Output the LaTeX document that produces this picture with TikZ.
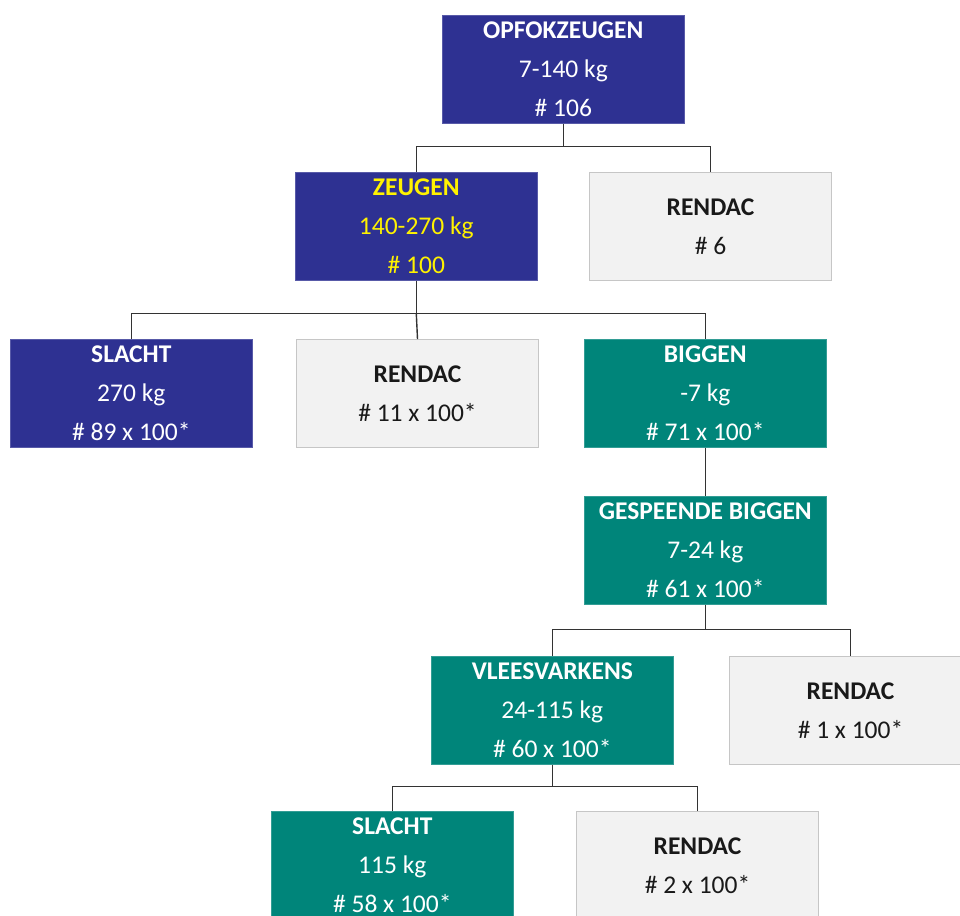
\documentclass[tikz,border=0pt]{standalone}
\usepackage{fontspec}
\setmainfont{Carlito}
\definecolor{navy}{HTML}{2E3192}
\definecolor{teal2}{HTML}{00857A}
\definecolor{greyfill}{HTML}{F2F2F2}
\definecolor{greyline}{HTML}{C6C6C6}
\definecolor{yel}{HTML}{FFF200}
\definecolor{conn}{HTML}{333333}
\tikzset{
  box/.style={anchor=north west, minimum width=242pt, minimum height=108pt, inner sep=0pt,
    align=center, font=\fontsize{25.5}{39}\selectfont},
  bluebox/.style={box, fill=navy, draw=navy!80!white, line width=0.6pt, text=white},
  tealbox/.style={box, fill=teal2, draw=teal2!80!white, line width=0.6pt, text=white},
  greybox/.style={box, fill=greyfill, draw=greyline, line width=1pt, text=black!90},
  link/.style={draw=conn, line width=1.4pt}
}
\begin{document}
\begin{tikzpicture}[x=1pt,y=-1pt]
\useasboundingbox (0,0) rectangle (960,915);
\clip (0,0) rectangle (960,915);
\node[bluebox] (opf) at (442,15) {\textbf{OPFOKZEUGEN}\\7-140 kg\\\# 106};
\node[bluebox, text=yel] (zeug) at (295,172) {\textbf{ZEUGEN}\\140-270 kg\\\# 100};
\node[greybox] (rend1) at (589,172) {\textbf{RENDAC}\\\# 6};
\node[bluebox] (sl1) at (10,339) {\textbf{SLACHT}\\270 kg\\\# 89 x 100*};
\node[greybox] (rend2) at (296,339) {\textbf{RENDAC}\\\# 11 x 100*};
\node[tealbox] (big) at (584,339) {\textbf{BIGGEN}\\-7 kg\\\# 71 x 100*};
\node[tealbox] (gesp) at (584,496) {\textbf{GESPEENDE BIGGEN}\\7-24 kg\\\# 61 x 100*};
\node[tealbox] (vlees) at (431,656) {\textbf{VLEESVARKENS}\\24-115 kg\\\# 60 x 100*};
\node[greybox] (rend3) at (729,656) {\textbf{RENDAC}\\\# 1 x 100*};
\node[tealbox] (sl2) at (271,811) {\textbf{SLACHT}\\115 kg\\\# 58 x 100*};
\node[greybox] (rend4) at (576,811) {\textbf{RENDAC}\\\# 2 x 100*};

\draw[link] (opf.south) -- ++(0,23) coordinate (j1);
\draw[link] (zeug.north) |- (j1) -| (rend1.north);
\draw[link] (zeug.south) -- ++(0,33) coordinate (j2);
\draw[link] (sl1.north) |- (j2) -| (big.north);
\draw[link] (j2) -- (rend2.north);
\draw[link] (big.south) -- (gesp.north);
\draw[link] (gesp.south) -- ++(0,25) coordinate (j3);
\draw[link] (vlees.north) |- (j3) -| (rend3.north);
\draw[link] (vlees.south) -- ++(0,22) coordinate (j4);
\draw[link] (sl2.north) |- (j4) -| (rend4.north);
\end{tikzpicture}
\end{document}
